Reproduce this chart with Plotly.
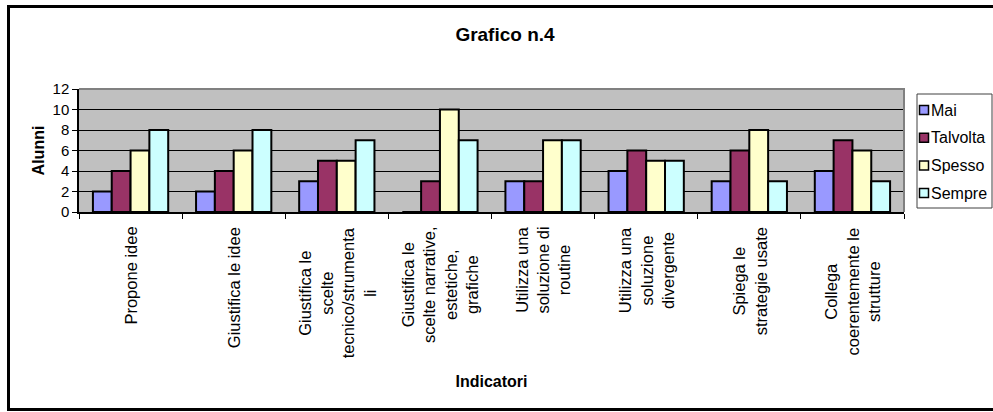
import plotly.graph_objects as go

categories = [
    "Propone idee",
    "Giustifica le idee",
    "Giustifica le<br>scelte<br>tecnico/strumenta<br>li",
    "Giustifica le<br>scelte narrative,<br>estetiche,<br>grafiche",
    "Utilizza una<br>soluzione di<br>routine",
    "Utilizza una<br>soluzione<br>divergente",
    "Spiega le<br>strategie usate",
    "Collega<br>coerentemente le<br>strutture",
]
series_names = ["Mai", "Talvolta", "Spesso", "Sempre"]
mai = [2, 2, 3, 0, 3, 4, 3, 4]
talvolta = [4, 4, 5, 3, 3, 6, 6, 7]
spesso = [6, 6, 5, 10, 7, 5, 8, 6]
sempre = [8, 8, 7, 7, 7, 5, 3, 3]
colors = ["#9999FF", "#993366", "#FFFFCC", "#CCFFFF"]
y_ticks = [0, 2, 4, 6, 8, 10, 12]

FONT = "Liberation Sans, Arial, sans-serif"
W, H = 993, 412
L, R, T, B = 79, 904, 89, 212  # plot area in pixels
pw, ph = R - L, B - T

def px_x(x):
    return (x - L) / pw

def px_y(y):
    return (B - y) / ph

fig = go.Figure()
for i, (name, vals) in enumerate(zip(series_names, [mai, talvolta, spesso, sempre])):
    fig.add_trace(go.Bar(
        x=categories, y=vals, name=name,
        marker=dict(color=colors[i], line=dict(color="black", width=2)),
        showlegend=False,
    ))

# category labels (centered multi-line, rotated)
for c in categories:
    fig.add_annotation(
        x=c, xref="x", y=0, yref="y", yshift=-13,
        text=c, textangle=-90, showarrow=False,
        xanchor="center", yanchor="top", align="center",
        font=dict(family=FONT, size=16.5, color="black"),
    )

# outer chart border
fig.add_shape(type="rect", xref="paper", yref="paper",
              x0=px_x(8.5), x1=px_x(1010), y0=px_y(409.5), y1=px_y(6.5),
              line=dict(color="black", width=3), fillcolor="rgba(0,0,0,0)", layer="above")
# plot area top/right border
fig.add_shape(type="path", xref="paper", yref="paper",
              path="M 0 1 L 1 1 L 1 0",
              line=dict(color="#808080", width=2), layer="above")

# legend box (drawn from series names / colours)
fig.add_shape(type="rect", xref="paper", yref="paper",
              x0=px_x(917), x1=px_x(992), y0=px_y(208), y1=px_y(94),
              line=dict(color="#404040", width=1), fillcolor="white", layer="above")
leg_y0, leg_dy = 110, 27.7
for i, name in enumerate(series_names):
    cy = leg_y0 + i * leg_dy
    fig.add_shape(type="rect", xref="paper", yref="paper",
                  x0=px_x(919.5), x1=px_x(928.5), y0=px_y(cy + 4.5), y1=px_y(cy - 4.5),
                  line=dict(color="black", width=1.5), fillcolor=colors[i], layer="above")
    fig.add_annotation(x=px_x(929), xref="paper", y=px_y(cy), yref="paper",
                       text=name, showarrow=False, xanchor="left", yanchor="middle",
                       font=dict(family=FONT, size=16, color="black"))

fig.update_layout(
    width=W, height=H,
    margin=dict(l=L, r=W - R, t=T, b=H - B, pad=0, autoexpand=False),
    paper_bgcolor="white", plot_bgcolor="#C0C0C0",
    barmode="group", bargap=0.27, bargroupgap=0,
    font=dict(family=FONT, size=14, color="black"),
    title=dict(text="<b>Grafico n.4</b>", x=px_x(505), xref="paper", xanchor="center",
               y=1 - 34 / H, yref="container", yanchor="middle",
               font=dict(family=FONT, size=19, color="black")),
    showlegend=False,
    xaxis=dict(
        type="category", showticklabels=False, tickson="boundaries",
        ticks="outside", ticklen=5, tickcolor="black", tickwidth=1,
        showline=True, linecolor="black", linewidth=1.5,
        showgrid=False, zeroline=False, fixedrange=True,
        title=dict(text="<b>Indicatori</b>", standoff=163,
                   font=dict(family=FONT, size=16, color="black")),
        automargin=False,
    ),
    yaxis=dict(
        range=[0, 12], tickvals=y_ticks, ticktext=[str(v) for v in y_ticks],
        ticks="outside", ticklen=5, tickcolor="black", tickwidth=1,
        showline=True, linecolor="black", linewidth=1.5,
        showgrid=True, gridcolor="black", gridwidth=1, zeroline=False,
        tickfont=dict(family=FONT, size=15, color="black"),
        title=dict(text="<b>Alunni</b>", standoff=4,
                   font=dict(family=FONT, size=16, color="black")),
        automargin=False, fixedrange=True,
    ),
)

fig.write_html("out.html")
